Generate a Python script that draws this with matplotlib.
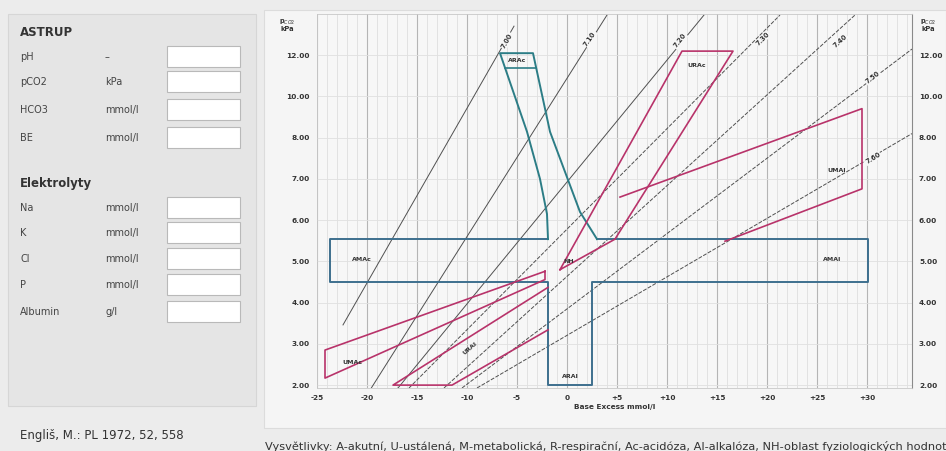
import numpy as np
import matplotlib.pyplot as plt
from matplotlib.patches import Rectangle

# pCO2 scale (kPa) - labels sit at equal spacing on the chart
pco2_ref = [1, 2, 3, 4, 5, 6, 7, 8, 10, 12, 14]
pco2_ticks = [2, 3, 4, 5, 6, 7, 8, 10, 12]
pco2_labels = ["2.00", "3.00", "4.00", "5.00", "6.00", "7.00", "8.00", "10.00", "12.00"]

be_ticks = [-25, -20, -15, -10, -5, 0, 5, 10, 15, 20, 25, 30]
be_labels = ["-25", "-20", "-15", "-10", "-5", "0", "+5", "+10", "+15", "+20", "+25", "+30"]

# normal zone (cross) and acute respiratory acidosis funnel
cross_be = [-1.9, -23.7, -23.7, -1.9, -1.9, 2.5, 2.5, 30.1, 30.1, 3.0]
cross_kpa = [5.54, 5.54, 4.51, 4.51, 2.0, 2.0, 4.51, 4.51, 5.54, 5.54]
arac_be = [-1.9, -2.0, -2.7, -4.0, -6.7, -3.4, -1.7, 1.3, 3.0]
arac_kpa = [5.54, 6.15, 7.0, 8.29, 12.1, 12.1, 8.29, 6.2, 5.54]

# chronic regions
urac_be = [-0.7, 11.5, 16.6, 4.8, -0.7]
urac_kpa = [4.80, 12.2, 12.2, 5.54, 4.80]
umal_be = [5.3, 29.5, 29.5, 15.8]
umal_kpa = [6.56, 9.41, 6.76, 5.49]
umac_be = [-2.2, -24.2, -24.2, -2.2, -2.2]
umac_kpa = [4.76, 2.85, 2.17, 4.56, 4.76]
ural_be = [-1.9, -17.4, -11.5, -1.9]
ural_kpa = [4.37, 2.0, 2.0, 3.34]

# pH isopleths (end points)
iso_ph = ["7.00", "7.10", "7.20", "7.30", "7.40", "7.50", "7.60"]
iso_be = [(-22.4, -5.3), (-19.7, 4.0), (-16.9, 13.7), (-15.8, 21.3),
          (-12.3, 28.8), (-10.5, 34.5), (-9.0, 34.5)]
iso_kpa = [(3.46, 13.41), (1.88, 13.95), (1.93, 13.95), (1.93, 13.95),
           (1.93, 13.95), (1.93, 12.3), (1.93, 8.2)]
iso_lab_x = [-6.0, 2.3, 11.3, 19.6, 27.3, 30.6, 30.6]
iso_lab_y = [12.7, 12.8, 12.7, 12.8, 12.7, 10.9, 7.5]
iso_rot = [60, 55, 52, 45, 42, 38, 32]
iso_ls = ["-", "-", "-", "--", "--", "--", "--"]

region_names = ["ARAc", "AMAc", "NH", "AMAl", "ARAl", "URAc", "UMAl", "UMAc", "URAl"]
region_x = [-5.0, -20.5, 0.2, 26.5, 0.3, 13.0, 27.0, -21.5, -9.7]
region_y = [11.75, 5.05, 5.0, 5.05, 2.2, 11.5, 7.2, 2.55, 2.9]
region_rot = [0, 0, 0, 0, 0, 0, 0, 0, 40]

astrup_rows = ["pH", "pCO2", "HCO3", "BE"]
astrup_units = ["–", "kPa", "mmol/l", "mmol/l"]
astrup_y = [57, 82, 110, 138]
elyt_rows = ["Na", "K", "Cl", "P", "Albumin"]
elyt_units = ["mmol/l", "mmol/l", "mmol/l", "mmol/l", "g/l"]
elyt_y = [208, 233, 259, 285, 312]

teal = "#2c7d86"
blue = "#3d6f8e"
red = "#b8336a"
iso_col = "#505050"

fig = plt.figure(figsize=(9.46, 4.51), dpi=100)
fig.patch.set_facecolor("#ececec")

# background / left form drawn in pixel coordinates
bg = fig.add_axes([0, 0, 1, 1])
bg.set_xlim(0, 946)
bg.set_ylim(451, 0)
bg.axis("off")
bg.add_patch(Rectangle((8, 14), 248, 392, fc="#e5e5e5", ec="#d6d6d6", lw=0.8))
bg.add_patch(Rectangle((264, 10), 682, 418, fc="#f5f5f5", ec="#dcdcdc", lw=0.8))
bg.text(20, 33, "ASTRUP", fontsize=8.5, weight="bold", color="#333333", va="center")
bg.text(20, 183, "Elektrolyty", fontsize=8.5, weight="bold", color="#333333", va="center")
for names, units, ys in [(astrup_rows, astrup_units, astrup_y), (elyt_rows, elyt_units, elyt_y)]:
    for n, u, y in zip(names, units, ys):
        bg.text(20, y, n, fontsize=7, color="#444444", va="center")
        bg.text(105, y, u, fontsize=7, color="#444444", va="center")
        bg.add_patch(Rectangle((167, y - 11), 73, 21, fc="white", ec="#b9b9b9", lw=0.8))
bg.text(20, 436, "Engliš, M.: PL 1972, 52, 558", fontsize=8.5, color="#333333", va="center")
bg.text(265, 446, "Vysvětlivky: A-akutní, U-ustálená, M-metabolická, R-respirační, Ac-acidóza, "
        "Al-alkalóza, NH-oblast fyziologických hodnot", fontsize=8.2, color="#333333",
        va="center", clip_on=False)
bg.text(287, 25, "p$_{CO2}$\nkPa", fontsize=4.8, weight="bold", color="#333333",
        va="center", ha="center", linespacing=0.9)
bg.text(928, 25, "p$_{CO2}$\nkPa", fontsize=4.8, weight="bold", color="#333333",
        va="center", ha="center", linespacing=0.9)

# the nomogram
ax = fig.add_axes([317 / 946, 1 - 388 / 451, 595 / 946, 374 / 451])
ax.set_facecolor("#f7f7f7")
pos = list(range(len(pco2_ref)))
ax.set_yscale("function", functions=(lambda v: np.interp(v, pco2_ref, pos),
                                     lambda p: np.interp(p, pos, pco2_ref)))
ax.set_xlim(-25, 34.5)
ax.set_ylim(1.93, 14.1)
ax.set_xticks(be_ticks, be_labels)
ax.set_yticks(pco2_ticks, pco2_labels)
ax.minorticks_off()
for v in np.arange(-25, 35, 1):
    ax.axvline(v, color="#b5b5b5" if v % 5 == 0 else "#dadada",
               lw=0.8 if v % 5 == 0 else 0.5, zorder=0)
for v in pco2_ticks:
    ax.axhline(v, color="#e0e0e0", lw=0.6, zorder=0)
ax.tick_params(axis="both", labelsize=5.3, length=0, colors="#333333")
ax.tick_params(axis="y", labelright=True, pad=5)
ax.tick_params(axis="x", pad=5)
for t in ax.get_xticklabels() + ax.get_yticklabels():
    t.set_fontweight("bold")
ax.set_xlabel("Base Excess mmol/l", fontsize=5.3, weight="bold", labelpad=2, color="#333333")
for s in ["top", "left", "bottom"]:
    ax.spines[s].set_color("#c8c8c8")
    ax.spines[s].set_linewidth(0.6)
ax.spines["right"].set_color("#8a8a8a")

for ph, xs, ys, lx, ly, r, ls in zip(iso_ph, iso_be, iso_kpa, iso_lab_x, iso_lab_y, iso_rot, iso_ls):
    ax.plot(xs, ys, color=iso_col, lw=0.7, ls=ls, dashes=(4, 1.5) if ls == "--" else (None, None),
            zorder=2)
    ax.text(lx, ly, ph, fontsize=4.8, weight="bold", rotation=r, color="#333333",
            ha="center", va="center", zorder=3,
            bbox=dict(boxstyle="square,pad=0.1", fc="#f7f7f7", ec="none"))

ax.plot(cross_be, cross_kpa, color=blue, lw=1.4, zorder=4)
ax.plot(arac_be, arac_kpa, color=teal, lw=1.4, zorder=4)
ax.plot([-6.2, -3.1], [11.37, 11.37], color=teal, lw=1.2, zorder=4)
for xs, ys in [(urac_be, urac_kpa), (umal_be, umal_kpa), (umac_be, umac_kpa), (ural_be, ural_kpa)]:
    ax.plot(xs, ys, color=red, lw=1.2, zorder=4)
for n, x, y, r in zip(region_names, region_x, region_y, region_rot):
    ax.text(x, y, n, fontsize=4.5, weight="bold", rotation=r, color="#333333",
            ha="center", va="center", zorder=5)

fig.savefig("out.png", dpi=100, facecolor=fig.get_facecolor())
